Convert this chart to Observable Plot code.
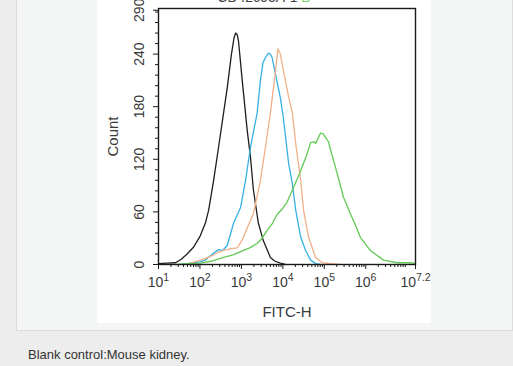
<!DOCTYPE html>
<html><head><meta charset="utf-8">
<script src="https://cdn.jsdelivr.net/npm/d3@7"></script>
<script src="https://cdn.jsdelivr.net/npm/@observablehq/plot@0.6"></script>
<style>
html,body{margin:0;padding:0}
body{background:#ededed;font-family:"Liberation Sans",Arial,sans-serif;width:513px;height:366px;overflow:hidden;position:relative}
#panel{position:absolute;left:16px;top:-1px;width:497px;height:332px;background:#f4f5f5;border:1px solid #dcdcdc;box-sizing:border-box}
#img{position:absolute;left:97px;top:0;width:334px;height:323px;background:#fff;overflow:hidden}
#title{position:absolute;left:0;top:-11px;width:334px;text-align:center;font-size:14px;color:#444;white-space:nowrap}
#cap{position:absolute;left:28px;top:347px;font-size:13px;color:#333}
</style></head>
<body>
<div id="panel"></div>
<div id="img"><div id="title">CD42c03A-1 <span style="color:#7bd36a">B</span></div><div id="chart"></div></div>
<div id="cap">Blank control:Mouse kidney.</div>
<script>
// FITC-H values as log10 exponents; counts
const blackX = [1.0,1.21,1.41,1.55,1.69,1.85,2.01,2.13,2.21,2.33,2.45,2.57,2.66,2.76,2.82,2.86,2.90,2.93,3.02,3.14,3.22,3.29,3.41,3.53,3.70,3.80,3.94,4.06];
const blackY = [1,1.5,2,6,12,20,33,47,62,96,134,173,202,240,258,264,262,255,210,153,122,85,47,27,8,4,1.5,0];
const blueX = [1.53,1.77,2.0,2.13,2.33,2.45,2.55,2.66,2.81,2.98,3.10,3.22,3.38,3.46,3.52,3.58,3.65,3.70,3.74,3.82,3.94,4.01,4.14,4.23,4.31,4.43,4.55,4.67,4.79,4.91];
const blueY = [0,1.5,3,5,13,17,16,22,47,65,96,134,173,210,230,236,241,240,236,218,190,168,115,92,62,31,16,5,1,0];
const orangeX = [1.65,2.01,2.25,2.45,2.57,2.75,2.90,3.02,3.14,3.29,3.46,3.58,3.70,3.82,3.88,3.94,4.01,4.14,4.23,4.31,4.43,4.50,4.62,4.79,4.95,5.15,5.39];
const orangeY = [0,5,9,14,16,18,19,28,42,58,96,134,173,220,246,240,222,191,173,138,96,62,31,8,2,1,0];
const greenX = [1.41,2.01,2.3,2.57,2.8,3.05,3.2,3.38,3.5,3.62,3.75,3.86,3.98,4.10,4.26,4.43,4.59,4.67,4.75,4.79,4.85,4.91,4.97,5.03,5.10,5.15,5.31,5.46,5.63,5.75,5.87,6.11,6.43,6.76,7.08,7.2];
const greenY = [0,1.5,4,8,11,16,19,24,30,39,47,57,63,71,88,107,127,139,140,138,144,150,149,145,140,131,104,77,58,45,31,16,5,2,2,1];

const seriesNames = ["Blank","Blue","Orange","Green"];
const seriesColors = ["#1e1e1e","#38b0e2","#f1b08a","#62c955"];
const xTickExps = [1,2,3,4,5,6,7.2];
const yTicks = [0,60,120,180,240,290];

const sets = [[blackX,blackY],[blueX,blueY],[orangeX,orangeY],[greenX,greenY]];
const rows = sets.flatMap(([xs,ys],k)=>xs.map((x,i)=>({x, y:ys[i], s:seriesNames[k]})));
const minorX = d3.range(1,8).flatMap(d=>d3.range(2,10).map(k=>d+Math.log10(k))).filter(v=>v<7.2);
const minorY = d3.range(0,292,12).filter(v=>v%60!==0);

const chart = Plot.plot({
  width:334, height:323,
  marginLeft:61, marginRight:16, marginTop:8, marginBottom:59,
  x:{domain:[1,7.2], axis:null},
  y:{domain:[0,292], axis:null},
  color:{domain:seriesNames, range:seriesColors},
  style:{fontFamily:"Liberation Sans, Arial, sans-serif", fontSize:"14px", color:"#3a3a3a", background:"transparent", overflow:"visible"},
  marks:[
    Plot.line(rows,{x:"x",y:"y",z:"s",stroke:"s",strokeWidth:1.3,curve:"linear"}),
    Plot.frame({stroke:"#1a1a1a", strokeWidth:1.4}),
    Plot.axisX({ticks:xTickExps, tickSize:5, tickFormat:()=>"", label:null, stroke:"#1a1a1a"}),
    Plot.axisX({ticks:minorX, tickSize:3, tickFormat:()=>"", label:null, stroke:"#1a1a1a"}),
    Plot.axisY({ticks:yTicks, tickSize:5, tickFormat:()=>"", label:null, stroke:"#1a1a1a"}),
    Plot.axisY({ticks:minorY, tickSize:3, tickFormat:()=>"", label:null, stroke:"#1a1a1a"}),
    Plot.text(xTickExps,{x:d=>d, frameAnchor:"bottom", dy:22, text:d=>"10|"+d, fill:"#3a3a3a", fontSize:14}),
    Plot.text(yTicks,{y:d=>d, frameAnchor:"left", dx:-19, rotate:-90, textAnchor:"middle", text:d=>String(d), fill:"#3a3a3a", fontSize:14}),
    Plot.text(["FITC-H"],{frameAnchor:"bottom", dy:52, fill:"#3a3a3a", fontSize:15}),
    Plot.text(["Count"],{frameAnchor:"left", dx:-45, rotate:-90, textAnchor:"middle", fill:"#3a3a3a", fontSize:15})
  ]
});
document.getElementById("chart").appendChild(chart);
d3.select(chart).selectAll("text").each(function(){
  const t = this.textContent;
  if (t.includes("|")) {
    const [base, ex] = t.split("|");
    const sel = d3.select(this);
    sel.text("");
    sel.append("tspan").text(base);
    sel.append("tspan").attr("dy","-0.5em").attr("font-size","10.5px").text(ex);
  }
});
</script>
</body></html>
